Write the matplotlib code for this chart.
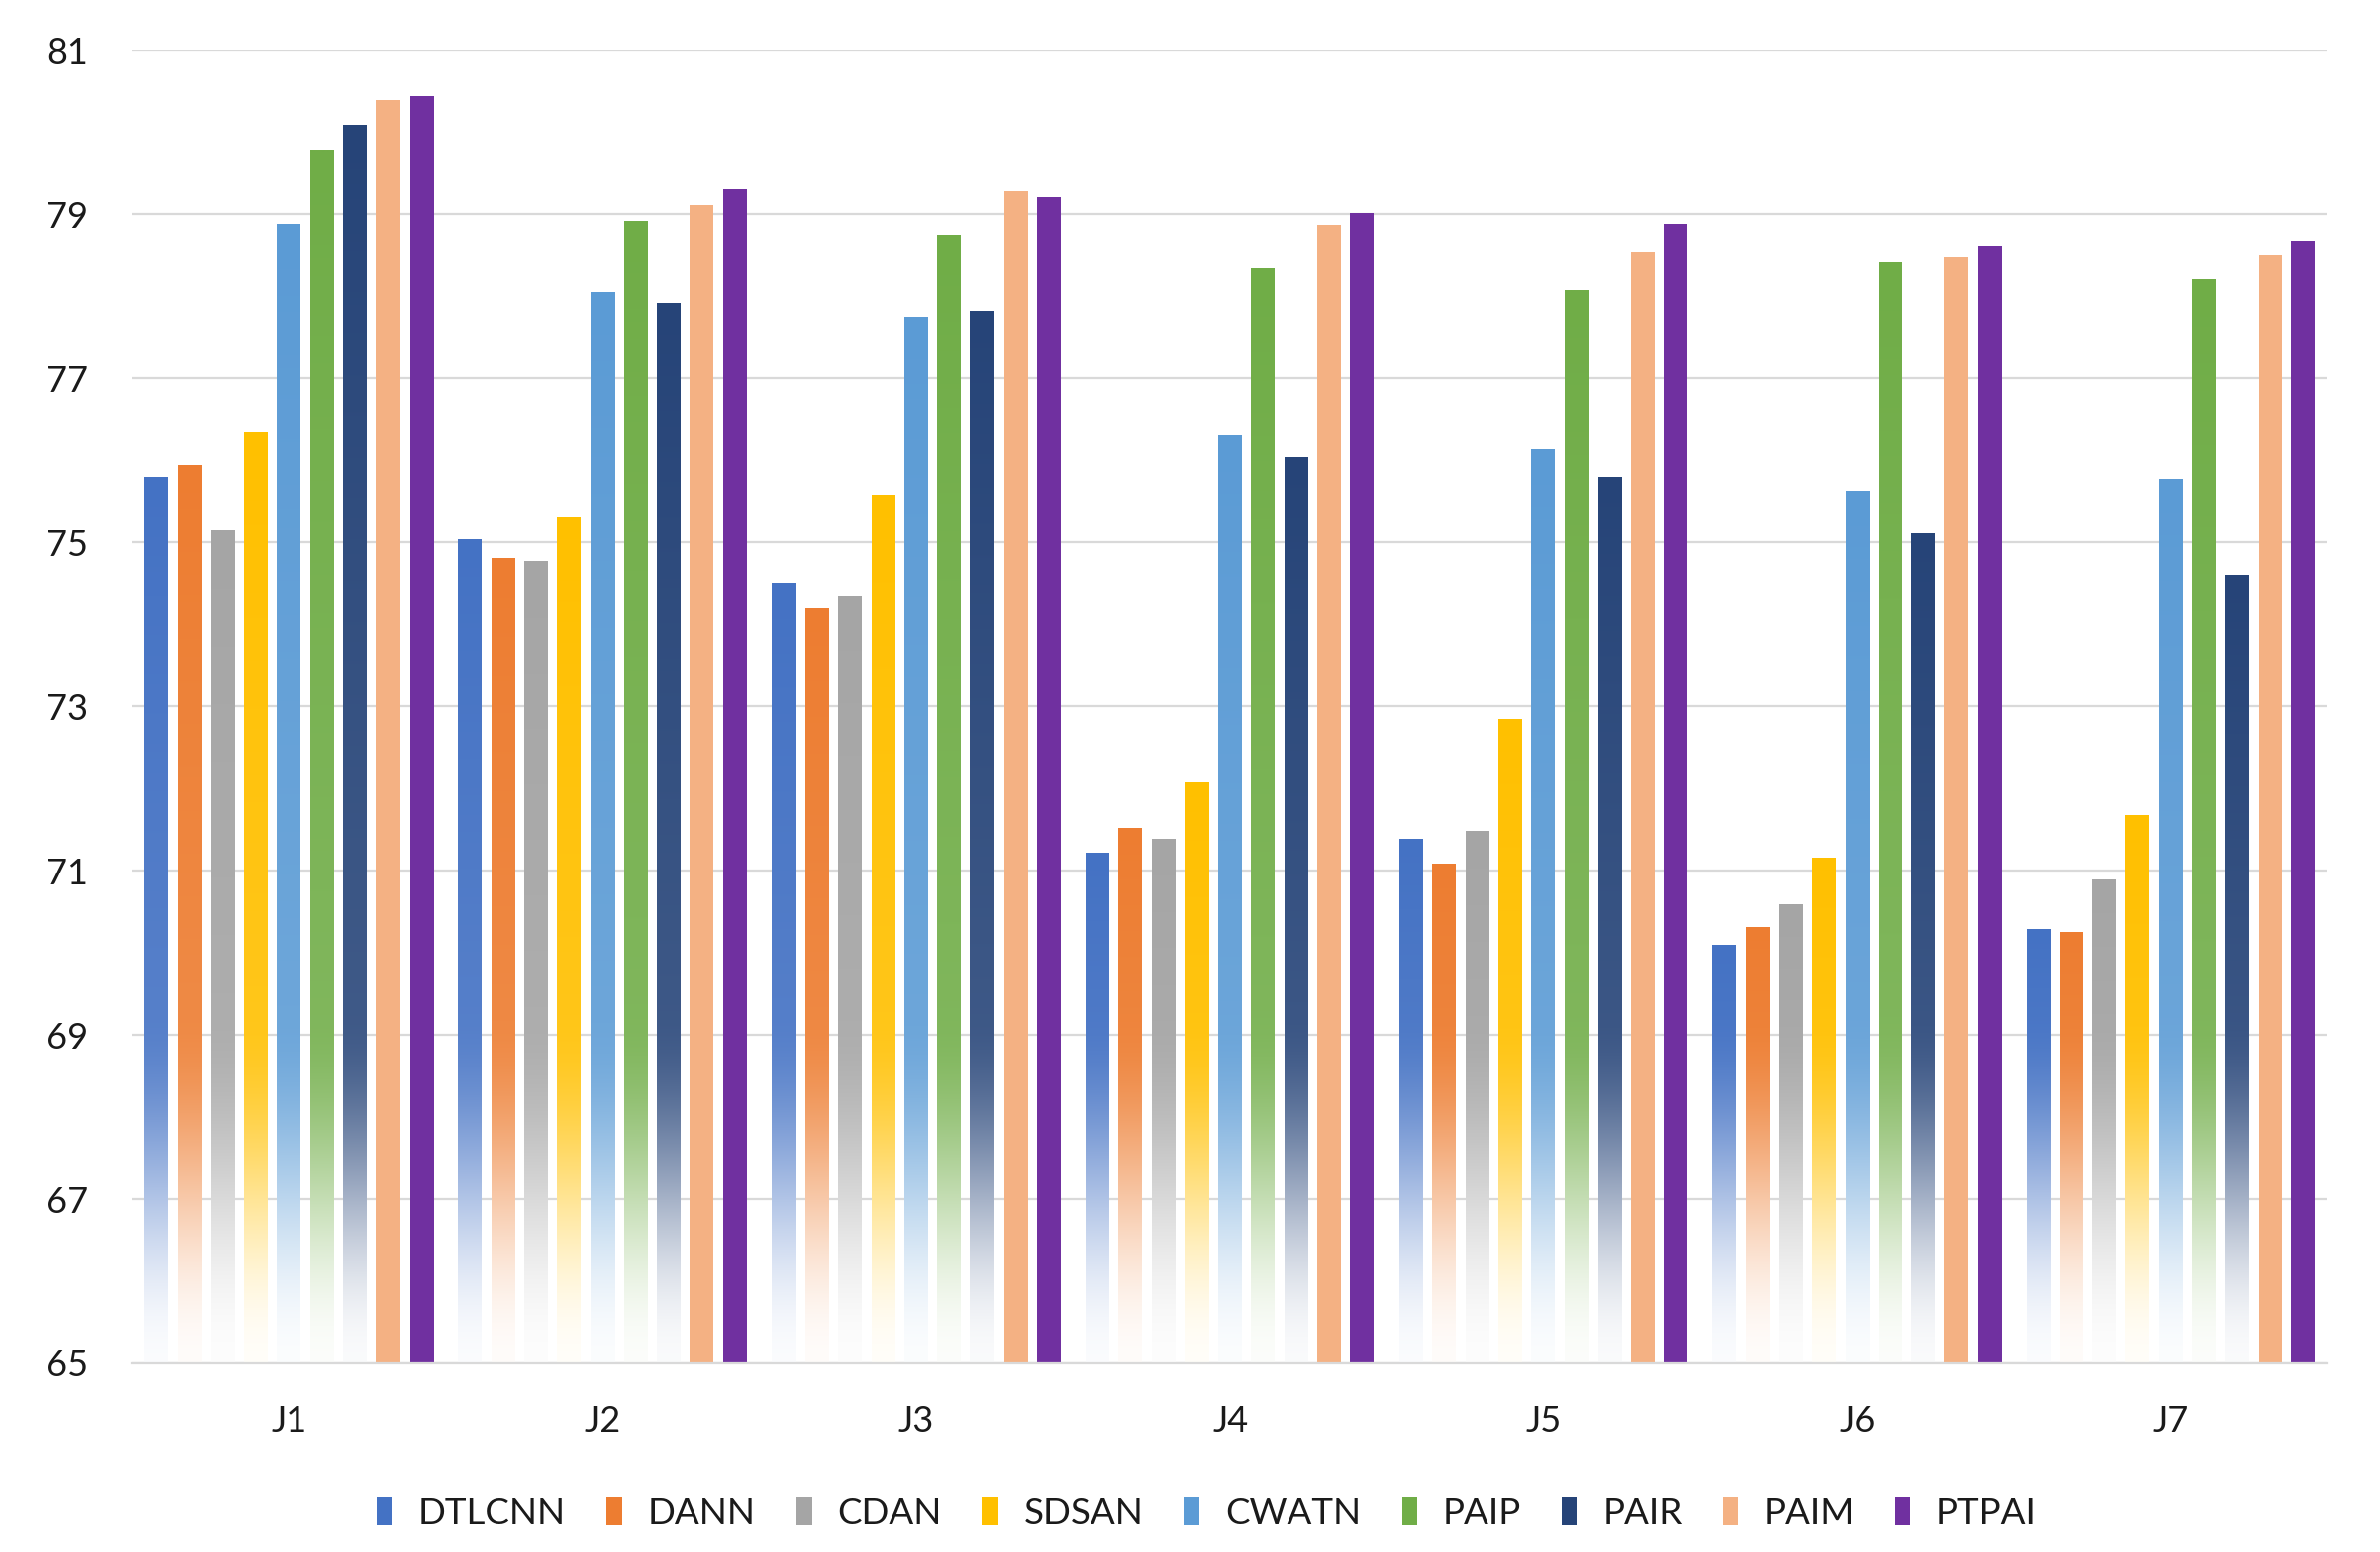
import matplotlib
matplotlib.use("Agg")
import matplotlib.pyplot as plt
import numpy as np
from matplotlib.patches import Patch
from matplotlib.colors import to_rgb

plt.rcParams['font.family'] = ['Lato', 'DejaVu Sans']

# data
groups = ["J1", "J2", "J3", "J4", "J5", "J6", "J7"]
methods = ["DTLCNN", "DANN", "CDAN", "SDSAN", "CWATN", "PAIP", "PAIR", "PAIM", "PTPAI"]
colors = ["#4472C4", "#ED7D31", "#A5A5A5", "#FFC000", "#5B9BD5",
          "#70AD47", "#264478", "#F4B183", "#7030A0"]
faded = [True, True, True, True, True, True, True, False, False]

DTLCNN = [75.80, 75.03, 74.50, 71.21, 71.38, 70.08, 70.28]
DANN   = [75.94, 74.80, 74.20, 71.52, 71.08, 70.31, 70.24]
CDAN   = [75.14, 74.77, 74.34, 71.38, 71.48, 70.58, 70.88]
SDSAN  = [76.34, 75.30, 75.57, 72.08, 72.84, 71.15, 71.68]
CWATN  = [78.87, 78.04, 77.74, 76.30, 76.14, 75.61, 75.77]
PAIP   = [79.77, 78.91, 78.74, 78.34, 78.07, 78.41, 78.21]
PAIR   = [80.08, 77.91, 77.81, 76.04, 75.80, 75.10, 74.60]
PAIM   = [80.38, 79.11, 79.28, 78.87, 78.54, 78.48, 78.51]
PTPAI  = [80.44, 79.31, 79.21, 79.01, 78.88, 78.61, 78.68]
series = [DTLCNN, DANN, CDAN, SDSAN, CWATN, PAIP, PAIR, PAIM, PTPAI]

yticks = [65, 67, 69, 71, 73, 75, 77, 79, 81]
ymin, ymax = 65, 81

fig = plt.figure(figsize=(23.92, 15.6), dpi=100)
ax = fig.add_axes([0.0555, 0.1218, 0.9225, 0.8460])

x = np.arange(len(groups))
pitch = 0.1056
width = 0.076

for i, (name, vals) in enumerate(zip(methods, series)):
    pos = x + (i - 4) * pitch
    bars = ax.bar(pos, vals, width, color=colors[i], zorder=2)
    if not faded[i]:
        continue
    c = np.array(to_rgb(colors[i]))
    for b, v in zip(bars, vals):
        b.set_facecolor("none")
        b.set_edgecolor("none")
        ys = np.linspace(ymin, v, 300)
        f = np.clip((ys - ymin) / 4.2, 0, 1)
        f = f * f * (3 - 2 * f)
        a = 0.03 + 0.97 * f
        # mild lightening toward the lower part of the bar
        rel = (ys - ymin) / (v - ymin)
        a = a * (0.84 + 0.16 * rel)
        img = (1 - a)[:, None] * np.ones(3) + a[:, None] * c
        img = img[:, None, :]
        x0 = b.get_x()
        ax.imshow(img, extent=[x0, x0 + b.get_width(), ymin, v], origin="lower",
                  aspect="auto", interpolation="bilinear", zorder=2)

ax.set_xlim(-0.5, len(groups) - 0.5)
ax.set_ylim(ymin, ymax)
ax.set_yticks(yticks)
ax.set_xticks(x)
ax.set_xticklabels(groups)
ax.tick_params(axis="both", length=0, labelsize=26, colors="#1a1a1a")
ax.tick_params(axis="y", pad=32)
ax.tick_params(axis="x", pad=30)
ax.yaxis.grid(True, color="#D9D9D9", linewidth=1.6, zorder=0)
ax.set_axisbelow(True)
for s in ["top", "right", "left"]:
    ax.spines[s].set_visible(False)
ax.spines["bottom"].set_color("#D9D9D9")
ax.spines["bottom"].set_linewidth(1.6)

handles = [Patch(facecolor=c, edgecolor="none") for c in colors]
fig.legend(handles, methods, loc="center", bbox_to_anchor=(0.507, 0.025),
           ncol=9, frameon=False, fontsize=26.5, handlelength=0.42,
           handleheight=0.78, handletextpad=0.7, columnspacing=1.1,
           labelcolor="#1a1a1a")

fig.savefig("out.png", dpi=100, facecolor="white")
